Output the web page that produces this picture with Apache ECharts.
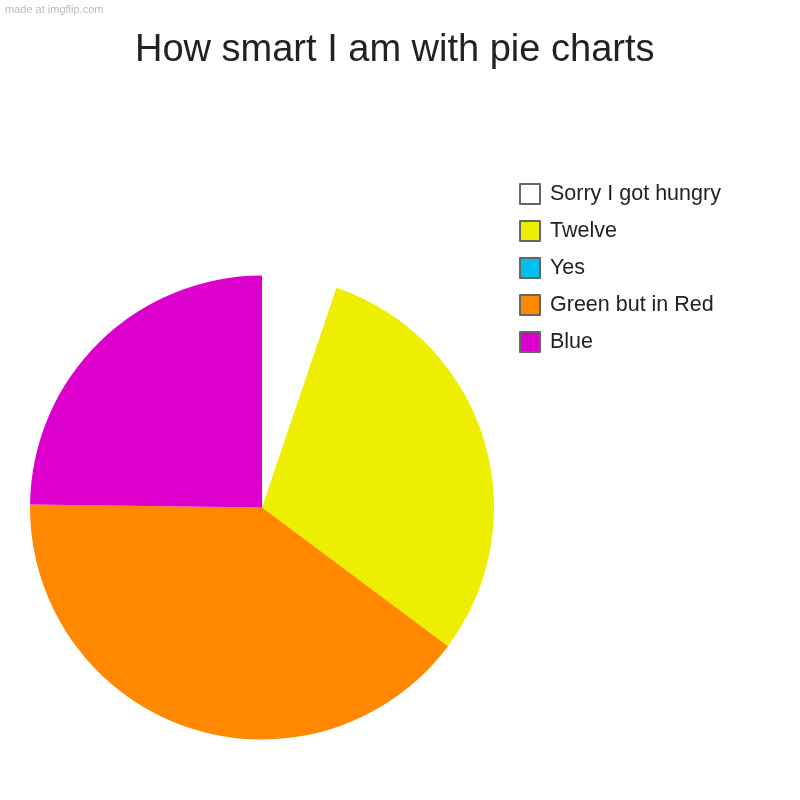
<!DOCTYPE html>
<html>
<head>
<meta charset="utf-8">
<script src="https://cdn.jsdelivr.net/npm/echarts@6/dist/echarts.min.js"></script>
<style>
html,body{margin:0;padding:0;background:#fff;}
#chart{width:800px;height:800px;}
</style>
</head>
<body>
<div id="chart"></div>
<script>
const categories = ['Sorry I got hungry', 'Twelve', 'Yes', 'Green but in Red', 'Blue'];
const values = [5.2, 30, 0, 40, 24.8];
const colors = ['#ffffff', '#eeee00', '#00c0ee', '#ff8800', '#dd00cc'];

const chart = echarts.init(document.getElementById('chart'), null, {renderer: 'canvas'});
chart.setOption({
  backgroundColor: '#ffffff',
  animation: false,
  color: colors,
  graphic: [{
    type: 'text', left: 5, top: 4,
    style: {text: 'made at imgflip.com', fill: '#bbbbbb', font: '11px "Liberation Sans", Arial, sans-serif'}
  }],
  title: {
    text: 'How smart I am with pie charts',
    left: 135, top: 32,
    padding: 0,
    textStyle: {fontFamily: '"Liberation Sans", Arial, sans-serif', fontSize: 38, fontWeight: 'normal', color: '#222222'}
  },
  legend: {
    orient: 'vertical',
    left: 519, top: 183,
    padding: 0,
    itemWidth: 20, itemHeight: 20, itemGap: 15,
    icon: 'rect',
    selectedMode: false,
    itemStyle: {borderColor: '#666666', borderWidth: 2},
    textStyle: {fontFamily: '"Liberation Sans", Arial, sans-serif', fontSize: 21.5, color: '#222222', padding: [0, 0, 0, 5]},
    data: categories
  },
  series: [{
    type: 'pie',
    center: [262, 507.5],
    radius: 232,
    startAngle: 90,
    clockwise: true,
    label: {show: false},
    labelLine: {show: false},
    emphasis: {disabled: true},
    itemStyle: {borderWidth: 0},
    data: categories.map((c, i) => ({name: c, value: values[i]}))
  }]
});
</script>
</body>
</html>
